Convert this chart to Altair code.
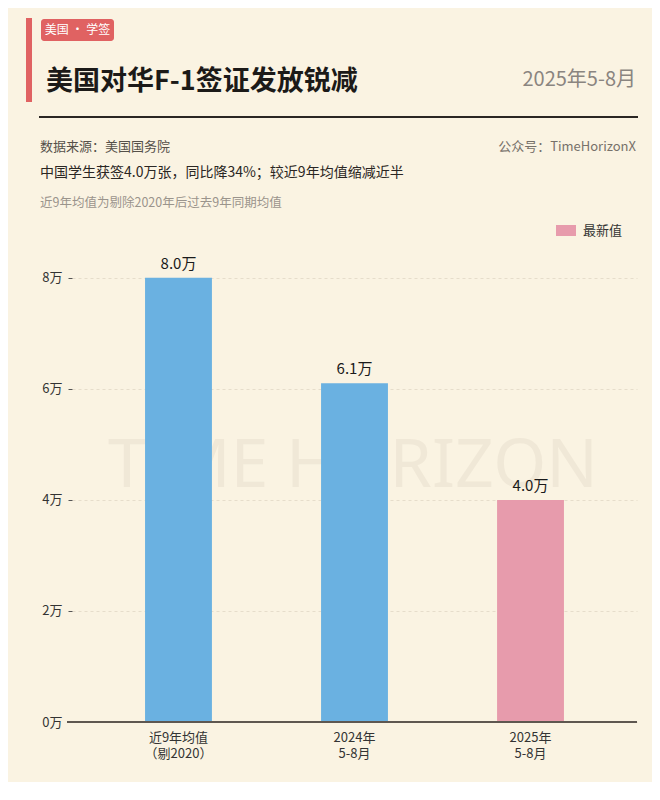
import altair as alt
import pandas as pd

# ---- data ----
categories = ["近9年均值\n（剔2020）", "2024年\n5-8月", "2025年\n5-8月"]
values = [8.0, 6.1, 4.0]
kinds = ["历史", "历史", "最新值"]
y_ticks = [0, 2, 4, 6, 8]

title_text = "美国对华F-1签证发放锐减"
tag_text = "美国 · 学签"
period_text = "2025年5-8月"
source_text = "数据来源：美国国务院"
account_text = "公众号：TimeHorizonX"
subtitle_text = "中国学生获签4.0万张，同比降34%；较近9年均值缩减近半"
note_text = "近9年均值为剔除2020年后过去9年同期均值"
legend_text = "最新值"
watermark_text = "TIME HORIZON"

BG = "#FAF3E2"
BLUE = "#6AB1E1"
PINK = "#E79BAC"
RED = "#E06262"
FONT = "Noto Sans CJK SC"

W, H = 565, 472
PAD_L, PAD_T = 64, 242

df = pd.DataFrame({"cat": categories, "value": values, "kind": kinds})

one = pd.DataFrame({"k": [0]})

xenc = alt.X(
    "cat:N",
    sort=categories,
    scale=alt.Scale(paddingInner=0.62, paddingOuter=0.415),
    axis=alt.Axis(
        title=None,
        labelAngle=0,
        labelExpr="split(datum.label, '\\n')",
        labelFont=FONT,
        labelFontSize=13,
        labelColor="#333333",
        labelPadding=9,
        labelLineHeight=16,
        ticks=False,
        domain=False,
    ),
)
yenc = alt.Y(
    "value:Q",
    scale=alt.Scale(domain=[0, 8.5], nice=False),
    axis=alt.Axis(
        title=None,
        values=y_ticks,
        labelExpr="datum.value + '万'",
        labelFont=FONT,
        labelFontSize=13,
        labelColor="#333333",
        labelPadding=6,
        tickSize=4,
        tickColor="#555555",
        domain=False,
        grid=True,
        gridColor="#E6DDCB",
        gridDash=[3, 3],
        gridWidth=1,
    ),
)


def txt(text, px, py, size, color, align="left", weight="normal", baseline="middle", font=FONT):
    return (
        alt.Chart(one)
        .mark_text(
            text=text, align=align, baseline=baseline, fontSize=size,
            color=color, fontWeight=weight, font=font,
        )
        .encode(x=alt.value(px - 72), y=alt.value(py - 250))
    )


def rect(x1, x2, y1, y2, color, radius=0):
    return (
        alt.Chart(one)
        .mark_rect(color=color, cornerRadius=radius)
        .encode(
            x=alt.value(x1 - 72), x2=alt.value(x2 - 72),
            y=alt.value(y1 - 250), y2=alt.value(y2 - 250),
        )
    )


watermark = txt(watermark_text, 353, 467, 68, "#F0E8D7", align="center", font="Noto Sans")

bars = (
    alt.Chart(df)
    .mark_bar()
    .encode(
        x=xenc,
        y=yenc,
        color=alt.Color(
            "kind:N",
            scale=alt.Scale(domain=["历史", "最新值"], range=[BLUE, PINK]),
            legend=None,
        ),
    )
)

labels = (
    alt.Chart(df)
    .transform_calculate(lbl="format(datum.value, '.1f') + '万'")
    .mark_text(baseline="bottom", dy=-6, fontSize=15, font=FONT, color="#1a1a1a")
    .encode(x=alt.X("cat:N", sort=categories), y="value:Q", text="lbl:N")
)

baseline = (
    alt.Chart(one)
    .mark_rule(color="#5E5750", strokeWidth=2)
    .encode(x=alt.value(-5), x2=alt.value(W), y=alt.value(H))
)

header_rule = (
    alt.Chart(one)
    .mark_rule(color="#2A2623", strokeWidth=2)
    .encode(x=alt.value(39 - 72), x2=alt.value(638 - 72), y=alt.value(117 - 250))
)

layers = [
    watermark,
    bars,
    labels,
    baseline,
    rect(26, 32, 18, 102, RED),
    rect(41, 114, 19, 41, RED, radius=3),
    txt(tag_text, 77.5, 30, 12, "#FFFFFF", align="center"),
    txt(title_text, 46, 82, 27, "#1C1A18", weight="bold"),
    txt(period_text, 636, 80, 20, "#8A8580", align="right"),
    header_rule,
    txt(source_text, 40, 147, 13, "#555049"),
    txt(account_text, 636, 147, 13, "#77716A", align="right"),
    txt(subtitle_text, 40, 173, 14, "#2A2623"),
    txt(note_text, 40, 203, 12.5, "#9A948C"),
    rect(556, 576, 225, 236, PINK),
    txt(legend_text, 583, 230.5, 13, "#333333"),
]

chart = (
    alt.layer(*layers)
    .properties(
        width=W,
        height=H,
        background=BG,
        padding={"left": PAD_L, "top": PAD_T, "right": 15, "bottom": 60},
        autosize=alt.AutoSizeParams(type="none"),
    )
    .configure_view(stroke=None)
)

chart.save("out.html", embed_options={"renderer": "svg", "actions": False})
